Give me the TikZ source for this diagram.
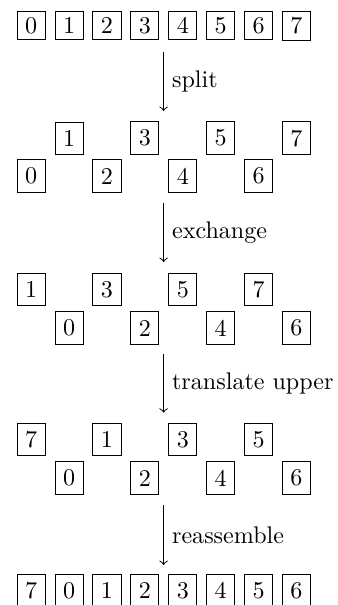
\documentclass[tikz,border=0pt]{standalone}
\begin{document}
\begin{tikzpicture}[x=0.41543pt,y=-0.41543pt,
  cell/.style={draw, inner sep=3.333pt},
  topcell/.style={draw, inner xsep=3.333pt, inner ysep=2.45pt},
  stage/.style={->}]
\useasboundingbox (0,0) rectangle (337,605);
% row 1
\foreach \v [count=\i from 0] in {0,1,2,3,4,5,6,7}
  \node[topcell] (a\v) at ({31.2+37.9*\i},25.8) {\v};
% row 2
\foreach \v/\c in {1/1,3/3,5/5,7/7}
  \node[cell] (bu\v) at ({31.2+37.9*\c},138.2) {\v};
\foreach \v/\c in {0/0,2/2,4/4,6/6}
  \node[cell] (bl\v) at ({31.2+37.9*\c},176) {\v};
% row 3
\foreach \v/\c in {1/0,3/2,5/4,7/6}
  \node[cell] (cu\v) at ({31.2+37.9*\c},289.5) {\v};
\foreach \v/\c in {0/1,2/3,4/5,6/7}
  \node[cell] (cl\v) at ({31.2+37.9*\c},328) {\v};
% row 4
\foreach \v/\c in {7/0,1/2,3/4,5/6}
  \node[cell] (du\v) at ({31.2+37.9*\c},439.5) {\v};
\foreach \v/\c in {0/1,2/3,4/5,6/7}
  \node[cell] (dl\v) at ({31.2+37.9*\c},478) {\v};
% row 5
\foreach \v [count=\i from 0] in {7,0,1,2,3,4,5,6}
  \node[cell] (e\v) at ({31.2+37.9*\i},590.5) {\v};
% arrows
\coordinate (s1) at (163.6,51.7);  \coordinate (t1) at (163.6,111);
\coordinate (s2) at (163.6,203.3); \coordinate (t2) at (163.6,262);
\coordinate (s3) at (163.6,354);   \coordinate (t3) at (163.6,412.7);
\coordinate (s4) at (163.6,505);   \coordinate (t4) at (163.6,565);
\draw[stage] (s1) -- node[right] {split} (t1);
\draw[stage] (s2) -- node[right] {exchange} (t2);
\draw[stage] (s3) -- node[right] {translate upper} (t3);
\draw[stage] (s4) -- node[right] {reassemble} (t4);
\end{tikzpicture}
\end{document}
